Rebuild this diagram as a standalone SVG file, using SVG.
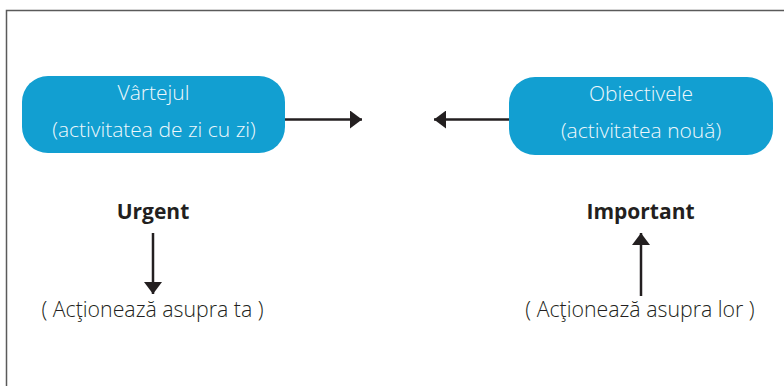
<svg xmlns="http://www.w3.org/2000/svg" width="784" height="386" viewBox="0 0 784 386">
<style>
.box{fill:#129fd1}
.bt{font-family:"Open Sans","Liberation Sans",sans-serif;font-weight:300;font-size:21px;fill:#eef8fc;text-anchor:middle}
.lb{font-family:"Open Sans","Liberation Sans",sans-serif;font-weight:700;font-size:21px;fill:#231f20;text-anchor:middle}
.lt{font-family:"Open Sans","Liberation Sans",sans-serif;font-weight:300;font-size:21.3px;fill:#231f20;text-anchor:middle}
.ln{stroke:#231f20;stroke-width:2.5;fill:none}
</style>
<defs>
<marker id="ah" viewBox="0 0 12 18" refX="12" refY="9" markerWidth="12" markerHeight="18" markerUnits="userSpaceOnUse" orient="auto">
<path d="M0,0 L12,9 L0,18 Z" fill="#231f20"/>
</marker>
</defs>
<rect width="784" height="386" fill="#fff"/>
<path d="M6.5,386 V10.5 H784" fill="none" stroke="#5a5a5a" stroke-width="1.5"/>
<g id="vartejul">
<rect class="box" x="22" y="76" width="263" height="77" rx="26"/>
<text class="bt" x="153.5" y="100">Vârtejul</text>
<text class="bt" x="154" y="137">(activitatea de zi cu zi)</text>
</g>
<g id="obiectivele">
<rect class="box" x="509" y="77" width="264" height="78" rx="26"/>
<text class="bt" x="641" y="101">Obiectivele</text>
<text class="bt" x="641" y="138">(activitatea nouă)</text>
</g>
<g id="urgent">
<text class="lb" x="153" y="219">Urgent</text>
</g>
<g id="important">
<text class="lb" x="640.5" y="219">Important</text>
</g>
<g id="actioneaza-ta">
<text class="lt" x="152.5" y="317">( Acţionează asupra ta )</text>
</g>
<g id="actioneaza-lor">
<text class="lt" x="640" y="317">( Acţionează asupra lor )</text>
</g>
<g id="connectors">
<line class="ln" x1="285" y1="119.5" x2="362" y2="119.5" marker-end="url(#ah)"/>
<line class="ln" x1="509" y1="119.5" x2="434" y2="119.5" marker-end="url(#ah)"/>
<line class="ln" x1="153" y1="233" x2="153" y2="294" marker-end="url(#ah)"/>
<line class="ln" x1="641" y1="296" x2="641" y2="233" marker-end="url(#ah)"/>
</g>
</svg>
